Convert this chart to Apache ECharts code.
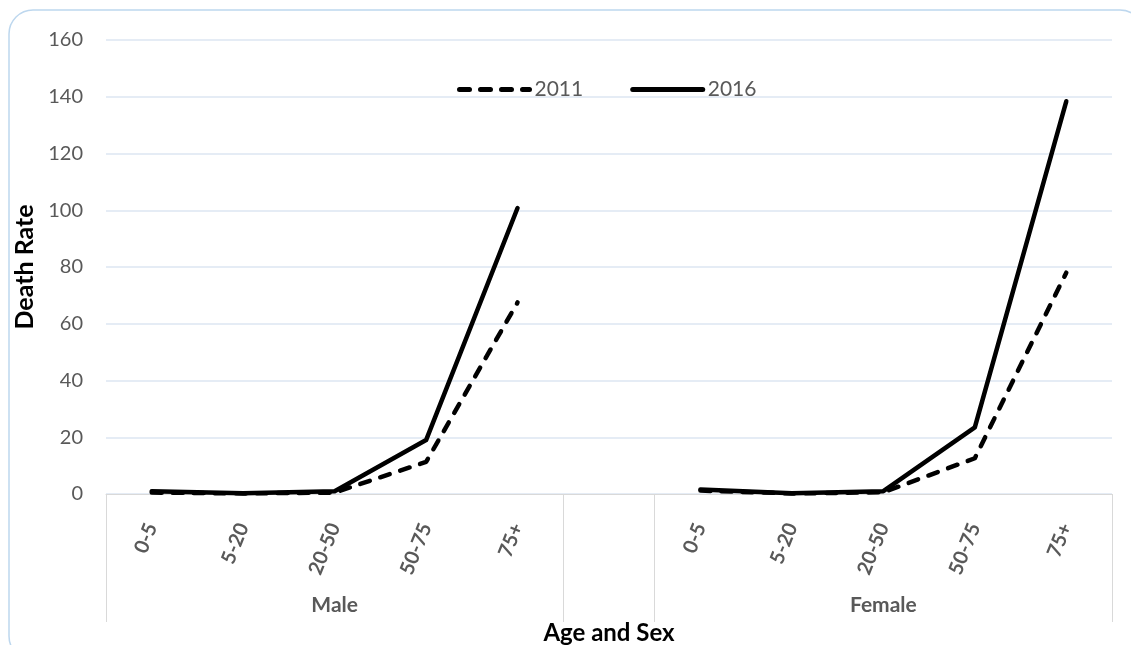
<!DOCTYPE html>
<html>
<head>
<meta charset="utf-8">
<script src="https://cdn.jsdelivr.net/npm/echarts@6/dist/echarts.min.js"></script>
<style>
html,body{margin:0;padding:0;background:#fff;}
#chart{width:1131px;height:645px;}
</style>
</head>
<body>
<div id="chart"></div>
<script>
// ---- data ----
var ageGroups = ['0-5', '5-20', '20-50', '50-75', '75+'];
var sexGroups = ['Male', 'Female'];
var male2011 = [0.5, 0.2, 0.5, 11.3, 67.5];
var male2016 = [1.0, 0.3, 1.0, 19.0, 100.8];
var female2011 = [1.2, 0.2, 0.6, 12.6, 78.0];
var female2016 = [1.6, 0.3, 1.0, 23.5, 138.4];
var yTicks = [0, 20, 40, 60, 80, 100, 120, 140, 160];

// categories: male ages, an empty gap, female ages
var categories = ageGroups.concat(['']).concat(ageGroups);
var s2011 = male2011.concat([null]).concat(female2011);
var s2016 = male2016.concat([null]).concat(female2016);
var nCat = categories.length;
var groupBounds = [0, ageGroups.length, ageGroups.length + 1, nCat];
var groupCenters = [ageGroups.length / 2, ageGroups.length + 1 + ageGroups.length / 2];

var FONT = 'Lato, "Open Sans", sans-serif';
var chart = echarts.init(document.getElementById('chart'));
chart.setOption({
  animation: false,
  backgroundColor: '#ffffff',
  graphic: [{
    type: 'rect',
    shape: {x: 9, y: 10, width: 1135, height: 650, r: 24},
    style: {fill: 'none', stroke: '#bdd7ee', lineWidth: 1.5},
    silent: true, z: -1
  }],
  grid: {left: 106, right: 19, top: 40, bottom: 151, outerBoundsMode: 'none', containLabel: false},
  legend: {
    top: 79, left: 457, padding: 0,
    itemWidth: 70, itemHeight: 14, itemGap: 47,
    itemStyle: {opacity: 0},
    lineStyle: {width: 5, cap: 'round'},
    textStyle: {fontFamily: FONT, fontSize: 21, color: '#595959'},
    data: ['2011', '2016']
  },
  xAxis: [{
    type: 'category',
    data: categories,
    boundaryGap: true,
    axisLine: {show: true, lineStyle: {color: '#d9d9d9', width: 1}},
    axisTick: {show: false},
    axisLabel: {
      interval: 0, rotate: 68, margin: 30,
      fontFamily: FONT, fontSize: 20, fontWeight: 'bold', color: '#595959'
    },
    splitLine: {show: false}
  }, {
    type: 'value',
    min: 0, max: nCat,
    position: 'bottom',
    axisLine: {show: false},
    axisTick: {show: true, customValues: groupBounds, length: 128,
      lineStyle: {color: '#d9d9d9', width: 1}},
    axisLabel: {
      customValues: groupCenters, margin: 101,
      formatter: function (v) { return v < ageGroups.length ? sexGroups[0] : sexGroups[1]; },
      fontFamily: FONT, fontSize: 21, fontWeight: 'bold', color: '#595959'
    },
    splitLine: {show: false},
    name: 'Age and Sex', nameLocation: 'middle', nameGap: 126,
    nameTextStyle: {fontFamily: FONT, fontSize: 24, fontWeight: 'bold', color: '#000'}
  }],
  yAxis: {
    type: 'value', min: 0, max: 160, interval: 20,
    axisLine: {show: false}, axisTick: {show: false},
    axisLabel: {
      margin: 23, fontFamily: FONT, fontSize: 20, color: '#595959',
      formatter: function (v) { return yTicks.indexOf(v) >= 0 ? String(v) : ''; }
    },
    splitLine: {lineStyle: {color: '#dce6f2', width: 1.5}},
    name: 'Death Rate', nameLocation: 'middle', nameGap: 63,
    nameTextStyle: {fontFamily: FONT, fontSize: 25, fontWeight: 'bold', color: '#000'}
  },
  series: [{
    name: '2011', type: 'line', data: s2011,
    symbol: 'none', connectNulls: false,
    lineStyle: {color: '#000', width: 4.5, type: [10, 11], cap: 'round', join: 'round'},
    itemStyle: {color: '#000'}
  }, {
    name: '2016', type: 'line', data: s2016,
    symbol: 'none', connectNulls: false,
    lineStyle: {color: '#000', width: 4.5, cap: 'round', join: 'round'},
    itemStyle: {color: '#000'}
  }]
});
</script>
</body>
</html>
